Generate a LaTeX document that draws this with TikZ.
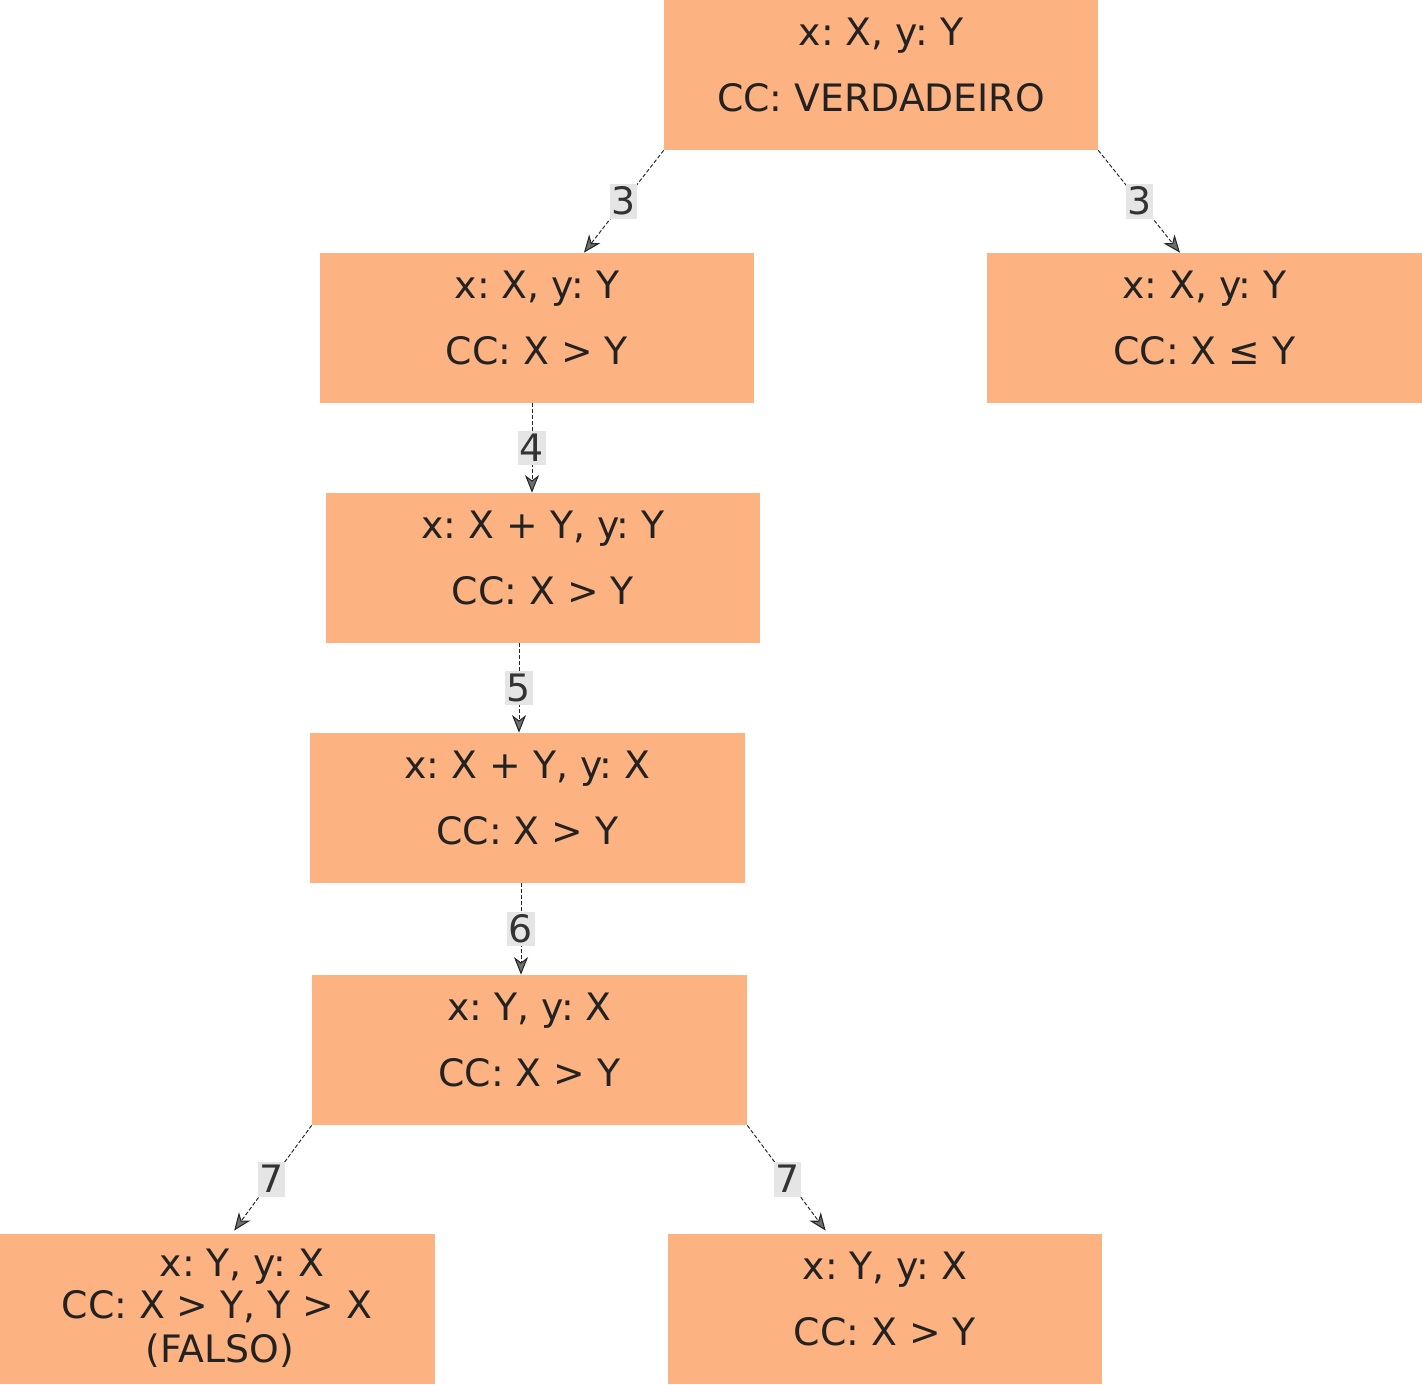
\documentclass[tikz,border=0pt]{standalone}
\usepackage{fontspec}
\setmainfont{DejaVu Sans}
\usetikzlibrary{arrows.meta,calc}
\frenchspacing
\definecolor{boxfill}{HTML}{FDB281}
\definecolor{ink}{HTML}{222222}
\definecolor{lblfill}{HTML}{E5E5E5}
\definecolor{lblink}{HTML}{333333}
\definecolor{tipfill}{HTML}{6E6E6E}
\tikzset{
  state/.style={rectangle, fill=boxfill, draw=none, inner sep=0pt,
                minimum width=8.68cm, minimum height=3cm},
  line/.style={anchor=base, text=ink, inner sep=0pt,
               font=\fontsize{21.5}{26}\selectfont},
  edge/.style={draw=black!85, line width=0.55pt, dash pattern=on 2.2pt off 1.2pt,
               -{Stealth[inset=3pt,length=10pt,width=8pt,fill=tipfill,line width=0.6pt]}},
  lbl/.style={fill=lblfill, text=lblink, inner sep=0pt, minimum width=15.4pt,
              text height=17.4pt, text depth=2.3pt,
              font=\fontsize{21.5}{26}\selectfont},
}
\begin{document}
\begin{tikzpicture}[x=0.02cm, y=-0.02cm]
  \useasboundingbox (0,0) rectangle (1422,1384);

  % state boxes
  \node[state] (top) at (881,75) {};
  \node[state] (l1)  at (537,328) {};
  \node[state, minimum width=8.70cm] (r1) at (1204.5,328) {};
  \node[state] (l2)  at (543,568) {};
  \node[state, minimum width=8.70cm] (l3) at (527.5,808) {};
  \node[state, minimum width=8.70cm] (l4) at (529.5,1050) {};
  \node[state, minimum width=8.70cm] (l5a) at (217.5,1309) {};
  \node[state] (l5b) at (885,1309) {};

  % box texts
  \node[line] (top-a) at (881,45)  {x: X, y: Y};
  \node[line] (top-b) at (881,111) {CC: VERDADEIRO};
  \node[line] (l1-a) at (537,298) {x: X, y: Y};
  \node[line] (l1-b) at (537,364) {CC: X > Y};
  \node[line] (r1-a) at (1204.5,298) {x: X, y: Y};
  \node[line] (r1-b) at (1204.5,364) {CC: X ≤ Y};
  \node[line] (l2-a) at (543,538) {x: X + Y, y: Y};
  \node[line] (l2-b) at (543,604) {CC: X > Y};
  \node[line] (l3-a) at (527.5,778) {x: X + Y, y: X};
  \node[line] (l3-b) at (527.5,844) {CC: X > Y};
  \node[line] (l4-a) at (529.5,1020) {x: Y, y: X};
  \node[line] (l4-b) at (529.5,1086) {CC: X > Y};
  \node[line] (l5a-a) at (242,1276) {x: Y, y: X};
  \node[line] (l5a-b) at (217,1318) {CC: X > Y, Y > X};
  \node[line] (l5a-c) at (220,1362) {(FALSO)};
  \node[line] (l5b-a) at (885,1279) {x: Y, y: X};
  \node[line] (l5b-b) at (885,1345) {CC: X > Y};

  % x positions of the vertical connectors
  \coordinate (v1) at (532,0);
  \coordinate (v2) at (519,0);
  \coordinate (v3) at (521,0);

  % connectors
  \draw[edge] (top.south west) -- node[lbl] {3} ($(l1.north west)!0.608!(l1.north east)$);
  \draw[edge] (top.south east) -- node[lbl] {3} ($(r1.north west)!0.4437!(r1.north east)$);
  \draw[edge] (l1.south -| v1) -- node[lbl] {4} (l2.north -| v1);
  \draw[edge] (l2.south -| v2) -- node[lbl] {5} (l3.north -| v2);
  \draw[edge] (l3.south -| v3) -- node[lbl] {6} (l4.north -| v3);
  \draw[edge, shorten >=2.2pt] (l4.south west) -- node[lbl] {7} ($(l5a.north west)!0.533!(l5a.north east)$);
  \draw[edge, shorten >=2.2pt] (l4.south east) -- node[lbl] {7} ($(l5b.north west)!0.3687!(l5b.north east)$);
\end{tikzpicture}
\end{document}
